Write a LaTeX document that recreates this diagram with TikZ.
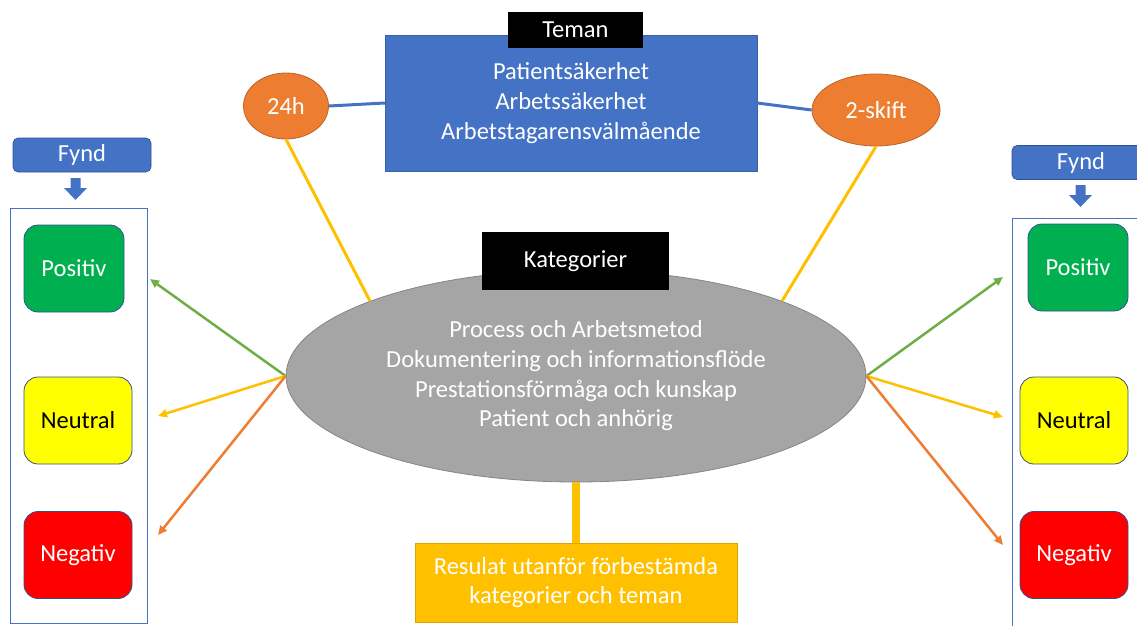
\documentclass[tikz,border=0pt]{standalone}
\usepackage{fontspec}
\setmainfont{Carlito}
\usepackage{tikz}
\usetikzlibrary{shapes.geometric,arrows.meta}

\definecolor{themeblue}{HTML}{4472C4}
\definecolor{edgeblue}{HTML}{2F528F}
\definecolor{themeorange}{HTML}{ED7D31}
\definecolor{themegold}{HTML}{FFC000}
\definecolor{themegreen}{HTML}{70AD47}
\definecolor{posgreen}{HTML}{00B050}
\definecolor{neuyellow}{HTML}{FFFF00}
\definecolor{negred}{HTML}{FF0000}
\definecolor{katgray}{HTML}{A5A5A5}

\begin{document}
\begin{tikzpicture}
[
    x = 1pt, y = -1pt,
    every node/.style = {font=\fontsize{24.5}{29.7}\selectfont, align=center, inner sep=0pt},
    header/.style = {fill=black, text=white},
    fyndbox/.style = {fill=themeblue, draw=edgeblue, line width=0.6pt, rounded corners=5pt, text=white, minimum width=138pt, minimum height=34pt},
    frame/.style = {draw=themeblue, line width=1pt, minimum width=137pt, minimum height=415pt},
    finding/.style = {draw=edgeblue, line width=0.8pt, rounded corners=14pt, minimum height=87pt},
    oval/.style = {ellipse, fill=themeorange, draw=themeorange!80!black, line width=0.8pt, text=white},
    link/.style = {line width=3pt},
    outcome/.style = {line width=2.5pt, -{Triangle[length=9pt,width=8pt]}},
]
    \useasboundingbox (0,0) rectangle (1137,626);

    \node[fill=themeblue, draw=themeblue!85!black, text=white, minimum width=372pt, minimum height=136pt] (tema) at (571,103)
        {Patientsäkerhet\\Arbetssäkerhet\\Arbetstagarensvälmående};
    \node[header, minimum width=135pt, minimum height=36pt] (temahead) at (575.5,30) {Teman};

    \node[oval, minimum width=85pt, minimum height=66pt] (h24) at (286,106) {24h};
    \node[oval, minimum width=128pt, minimum height=72pt] (skift) at (876,110) {2-skift};

    \node[ellipse, fill=katgray, draw=katgray!80!black, line width=0.8pt, text=white, minimum width=580pt, minimum height=212pt] (kat) at (576,376)
        {Process och Arbetsmetod\\Dokumentering och informationsflöde\\Prestationsförmåga och kunskap\\Patient och anhörig};
    \node[header, minimum width=187pt, minimum height=58pt] (kathead) at (575.5,261) {Kategorier};

    \node[fill=themegold, draw=themegold!85!black, line width=0.8pt, text=white, minimum width=322pt, minimum height=79pt] (res) at (576,582.5)
        {Resulat utanför förbestämda\\kategorier och teman};

    \draw[link, themeblue] (h24.east) -- (tema.west);
    \draw[link, themeblue] (tema.east) -- (skift.west);
    \draw[link, themegold] (h24.south) -- (kat.160);
    \draw[link, themegold] (skift.south) -- (kat.20);
    \draw[line width=8pt, themegold] (kat.south) -- (res.north);

    \node[fyndbox] (lfynd) at (82,155) {Fynd};
    \fill[themeblue] (70.5,178) -- (80.5,178) -- (80.5,188) -- (87,188) -- (75.5,200) -- (64,188) -- (70.5,188) -- cycle;
    \node[frame] (lframe) at (78.5,415.5) {};
    \node[finding, fill=posgreen, text=white, minimum width=100pt] (lpos) at (74,268.5) {Positiv};
    \node[finding, fill=neuyellow, text=black, minimum width=108pt] (lneu) at (78,420.5) {Neutral};
    \node[finding, fill=negred, text=white, minimum width=108pt] (lneg) at (78,555) {Negativ};

    \node[fyndbox] (rfynd) at (1081,162.5) {Fynd};
    \fill[themeblue] (1075.5,185) -- (1085.5,185) -- (1085.5,195) -- (1092,195) -- (1080.5,207) -- (1069,195) -- (1075.5,195) -- cycle;
    \node[frame] (rframe) at (1081,425.5) {};
    \node[finding, fill=posgreen, text=white, minimum width=100pt] (rpos) at (1078,267.5) {Positiv};
    \node[finding, fill=neuyellow, text=black, minimum width=108pt] (rneu) at (1074,420.5) {Neutral};
    \node[finding, fill=negred, text=white, minimum width=108pt] (rneg) at (1074,555) {Negativ};

    \coordinate (lposend) at (150,279);
    \coordinate (lneuend) at (158,416);
    \coordinate (lnegend) at (158,535);
    \coordinate (rposend) at (1003,277);
    \coordinate (rneuend) at (1003,417);
    \coordinate (rnegend) at (1003,545);

    \draw[outcome, themegreen] (kat.west) -- (lposend);
    \draw[outcome, themegold] (kat.west) -- (lneuend);
    \draw[outcome, themeorange] (kat.west) -- (lnegend);
    \draw[outcome, themegreen] (kat.east) -- (rposend);
    \draw[outcome, themegold] (kat.east) -- (rneuend);
    \draw[outcome, themeorange] (kat.east) -- (rnegend);
\end{tikzpicture}
\end{document}
